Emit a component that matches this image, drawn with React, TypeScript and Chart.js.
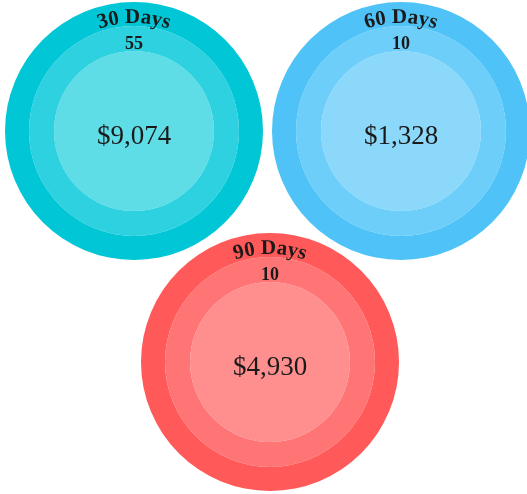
import React, { useEffect, useRef } from "react";
import { Chart, registerables } from "chart.js";

Chart.register(...registerables);

// ---- data ----
const periods = ["30 Days", "60 Days", "90 Days"];
const counts = [55, 10, 10];
const amounts = [9074, 1328, 4930];

// ---- styles ----
const palettes = [
  ["#00C6D6", "#2DD1E0", "#5FDDE7"],
  ["#4FC3F7", "#6CCEF9", "#8CD8FB"],
  ["#FF5959", "#FF7575", "#FF8F8F"],
];
const ringWeights = [24, 25, 80]; // outer, middle, inner
const SIZE = 258;
const boxes = [
  { left: 5, top: 2 },
  { left: 272, top: 2 },
  { left: 141, top: 233 },
];
const TEXT = "#1a1a1a";
const FONT = "'Liberation Serif', 'DejaVu Serif', serif";

function fmt(v: number) {
  return "$" + v.toLocaleString("en-US");
}

function makeLabelPlugin(idx: number) {
  return {
    id: "circleLabels" + idx,
    afterDraw(chart: any) {
      const ctx = chart.ctx as CanvasRenderingContext2D;
      const outer = chart.getDatasetMeta(0).data[0] as any;
      const middle = chart.getDatasetMeta(1).data[0] as any;
      const cx = outer.x;
      const cy = outer.y;
      const R = outer.outerRadius;
      ctx.save();
      ctx.fillStyle = TEXT;

      // curved title along outer ring
      ctx.font = `bold 21px ${FONT}`;
      const title = periods[idx];
      const rText = R - 21;
      const widths = Array.from(title).map((c) => ctx.measureText(c).width);
      const total = widths.reduce((a, b) => a + b, 0);
      let acc = 0;
      const start = -Math.PI / 2 - total / rText / 2;
      ctx.textAlign = "center";
      ctx.textBaseline = "alphabetic";
      Array.from(title).forEach((c, i) => {
        const a = start + (acc + widths[i] / 2) / rText;
        acc += widths[i];
        ctx.save();
        ctx.translate(cx + rText * Math.cos(a), cy + rText * Math.sin(a));
        ctx.rotate(a + Math.PI / 2);
        ctx.fillText(c, 0, 0);
        ctx.restore();
      });

      // count in middle ring
      ctx.font = `bold 18px ${FONT}`;
      const midR = (middle.outerRadius + middle.innerRadius) / 2;
      ctx.fillText(String(counts[idx]), cx, cy - midR + 10);

      // amount in centre
      ctx.font = `27px ${FONT}`;
      ctx.fillText(fmt(amounts[idx]), cx, cy + 13);
      ctx.restore();
    },
  };
}

function Circle({ idx }: { idx: number }) {
  const ref = useRef<HTMLCanvasElement>(null);
  useEffect(() => {
    if (!ref.current) return;
    const chart = new Chart(ref.current, {
      type: "pie",
      data: {
        labels: [periods[idx]],
        datasets: ringWeights.map((w, r) => ({
          data: [r === 1 ? counts[idx] : amounts[idx]],
          backgroundColor: [palettes[idx][r]],
          borderWidth: 0,
          weight: w,
          hoverOffset: 0,
        })),
      },
      options: {
        responsive: false,
        animation: false,
        layout: { padding: 0 },
        plugins: { legend: { display: false }, tooltip: { enabled: false } },
        events: [],
      },
      plugins: [makeLabelPlugin(idx)],
    } as any);
    return () => chart.destroy();
  }, [idx]);
  return (
    <canvas
      ref={ref}
      width={SIZE}
      height={SIZE}
      style={{ position: "absolute", left: boxes[idx].left, top: boxes[idx].top, width: SIZE, height: SIZE }}
    />
  );
}

export default function App() {
  return (
    <div
      style={{
        position: "fixed",
        left: 0,
        top: 0,
        width: 527,
        height: 494,
        overflow: "hidden",
        background: "#fff",
      }}
    >
      {periods.map((_, i) => (
        <Circle key={i} idx={i} />
      ))}
    </div>
  );
}
